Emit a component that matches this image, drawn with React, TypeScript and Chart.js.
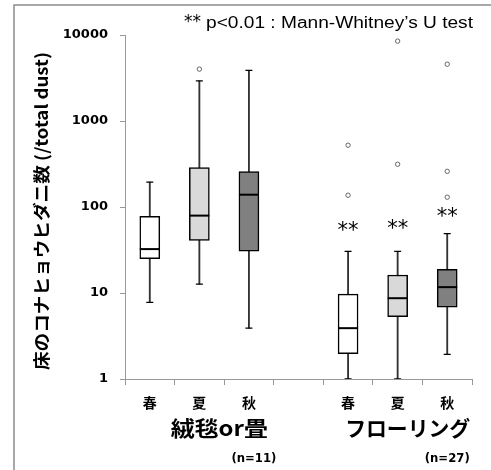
import React, { useEffect, useRef } from 'react';
import { Chart, registerables } from 'chart.js';

Chart.register(...registerables);

const categories = ['春', '夏', '秋', '', '春', '夏', '秋'];
const whiskerLow = [7.8, 12.7, 3.9, null, 1, 1, 1.93];
const q1 = [25, 41, 30.7, null, 1.97, 5.3, 6.85];
const medians = [32.4, 79.4, 139, null, 3.9, 8.7, 11.7];
const q3 = [78, 288, 258, null, 9.7, 16.2, 18.8];
const whiskerHigh = [195, 2930, 3870, null, 30.5, 30.5, 49];
const outlierA = [null, 4010, null, null, 523, 8490, 4580];
const outlierB = [null, null, null, null, 137, 314, 260];
const outlierC = [null, null, null, null, null, null, 130];
const significance = [null, null, null, null, 57, 61, 84];
const yTicks = [1, 10, 100, 1000, 10000];
const boxFills = ['#ffffff', '#d9d9d9', '#808080', '#ffffff', '#ffffff', '#d9d9d9', '#808080'];
const groupLabels = ['絨毯or畳', 'フローリング'];
const groupN = ['(n=11)', '(n=27)'];
const yTitle = '床のコナヒョウヒダニ数 (/total dust)';
const noteStars = '**';
const noteText = 'p<0.01 : Mann-Whitney’s U test';

const JP = '"Noto Sans CJK JP", "Noto Sans", sans-serif';

function drawFit(ctx: CanvasRenderingContext2D, text: string, cx: number, cy: number, font: string, width: number) {
  ctx.save();
  ctx.font = font;
  const w = ctx.measureText(text).width;
  const sx = width / w;
  ctx.translate(cx, cy);
  ctx.scale(sx, 1);
  ctx.textAlign = 'center';
  ctx.textBaseline = 'middle';
  ctx.fillText(text, 0, 0);
  ctx.restore();
}

const overlay = {
  id: 'overlay',
  afterDraw(chart: any) {
    const { ctx } = chart;
    const xs = chart.scales.x;
    const ys = chart.scales.y;
    ctx.save();
    // frame
    ctx.strokeStyle = '#8c8c8c';
    ctx.lineWidth = 1.5;
    ctx.beginPath();
    ctx.moveTo(14, 470);
    ctx.lineTo(14, 5);
    ctx.lineTo(491, 5);
    ctx.stroke();

    ctx.fillStyle = '#000';
    // top note
    ctx.font = '17px "DejaVu Sans"';
    ctx.textAlign = 'left';
    ctx.textBaseline = 'middle';
    ctx.fillText(noteStars, 184, 23);
    ctx.save();
    ctx.font = '16px "Liberation Sans"';
    const nw = ctx.measureText(noteText).width;
    ctx.translate(206, 24);
    ctx.scale(267 / nw, 1);
    ctx.fillText(noteText, 0, 0);
    ctx.restore();

    // significance markers
    ctx.font = '21px "DejaVu Sans"';
    ctx.textAlign = 'center';
    ctx.textBaseline = 'middle';
    significance.forEach((v, i) => {
      if (v == null) return;
      ctx.fillText('**', xs.getPixelForValue(i), ys.getPixelForValue(v) + 4);
    });

    // group labels
    drawFit(ctx, groupLabels[0], xs.getPixelForValue(1) + 20, 428, `bold 21px ${JP}`, 97);
    drawFit(ctx, groupLabels[1], xs.getPixelForValue(5) + 10, 428, `bold 21px ${JP}`, 125);
    drawFit(ctx, groupN[0], xs.getPixelForValue(2) + 5, 459, 'bold 12px "DejaVu Sans"', 45);
    drawFit(ctx, groupN[1], xs.getPixelForValue(6), 459, 'bold 12px "DejaVu Sans"', 45);

    // y title
    ctx.save();
    ctx.translate(42, 211);
    ctx.rotate(-Math.PI / 2);
    ctx.font = `bold 17px ${JP}`;
    const tw = ctx.measureText(yTitle).width;
    ctx.scale(318 / tw, 1);
    ctx.textAlign = 'center';
    ctx.textBaseline = 'middle';
    ctx.fillText(yTitle, 0, 0);
    ctx.restore();

    ctx.restore();
  },
};

function pointSet(label: string, data: (number | null)[], style: string, radius: number, width: number, color: string, fill: string) {
  return {
    type: 'line' as const,
    label,
    data,
    showLine: false,
    pointStyle: style,
    pointRadius: radius,
    pointHoverRadius: radius,
    pointBorderColor: color,
    pointBackgroundColor: fill,
    pointBorderWidth: width,
    borderColor: color,
    backgroundColor: fill,
    order: 1,
  };
}

export default function App() {
  const ref = useRef<HTMLCanvasElement | null>(null);
  useEffect(() => {
    if (!ref.current) return;
    const chart = new Chart(ref.current, {
      type: 'bar',
      data: {
        labels: categories,
        datasets: [
          {
            type: 'bar',
            label: 'whisker',
            data: categories.map((_, i) => (whiskerLow[i] == null ? null : [whiskerLow[i], whiskerHigh[i]])) as any,
            backgroundColor: '#333',
            borderWidth: 0,
            barThickness: 1.2,
            grouped: false,
            order: 3,
          },
          {
            type: 'bar',
            label: 'box',
            data: categories.map((_, i) => (q1[i] == null ? null : [q1[i], q3[i]])) as any,
            backgroundColor: boxFills,
            borderColor: '#000',
            borderWidth: 1.5,
            borderSkipped: false,
            barThickness: 20,
            grouped: false,
            order: 2,
          },
          pointSet('median', medians, 'line', 10, 2, '#000', '#000'),
          pointSet('low', whiskerLow, 'line', 3.5, 1.3, '#000', '#000'),
          pointSet('high', whiskerHigh, 'line', 3.5, 1.3, '#000', '#000'),
          pointSet('outA', outlierA, 'circle', 2.2, 1, '#666', '#fff'),
          pointSet('outB', outlierB, 'circle', 2.2, 1, '#666', '#fff'),
          pointSet('outC', outlierC, 'circle', 2.2, 1, '#666', '#fff'),
        ] as any,
      },
      options: {
        responsive: false,
        animation: false,
        layout: { padding: { top: 35, right: 19, left: 0, bottom: 0 } },
        plugins: { legend: { display: false }, tooltip: { enabled: false } },
        scales: {
          x: {
            type: 'category',
            offset: true,
            grid: { offset: true, drawOnChartArea: false, tickLength: 6, color: '#999' },
            border: { color: '#999' },
            ticks: {
              font: { family: JP, size: 14, weight: 'bold' },
              color: '#000',
              padding: 9,
              maxRotation: 0,
              autoSkip: false,
            },
            afterFit: (s: any) => {
              s.height = 91;
            },
          },
          y: {
            type: 'logarithmic',
            min: 1,
            max: 10000,
            afterBuildTicks: (s: any) => {
              s.ticks = yTicks.map((v) => ({ value: v }));
            },
            ticks: {
              callback: (v: any) => String(v),
              font: { family: '"DejaVu Sans"', size: 13, weight: 'bold' },
              color: '#000',
              padding: 12,
            },
            grid: { drawOnChartArea: false, tickLength: 5, color: '#999' },
            border: { color: '#999' },
            afterFit: (s: any) => {
              s.width = 125;
            },
          },
        },
      } as any,
      plugins: [overlay],
    });
    return () => chart.destroy();
  }, []);
  return (
    <div style={{ position: 'fixed', left: 0, top: 0, width: 491, height: 470, background: '#fff' }}>
      <canvas ref={ref} width={491} height={470} />
    </div>
  );
}
